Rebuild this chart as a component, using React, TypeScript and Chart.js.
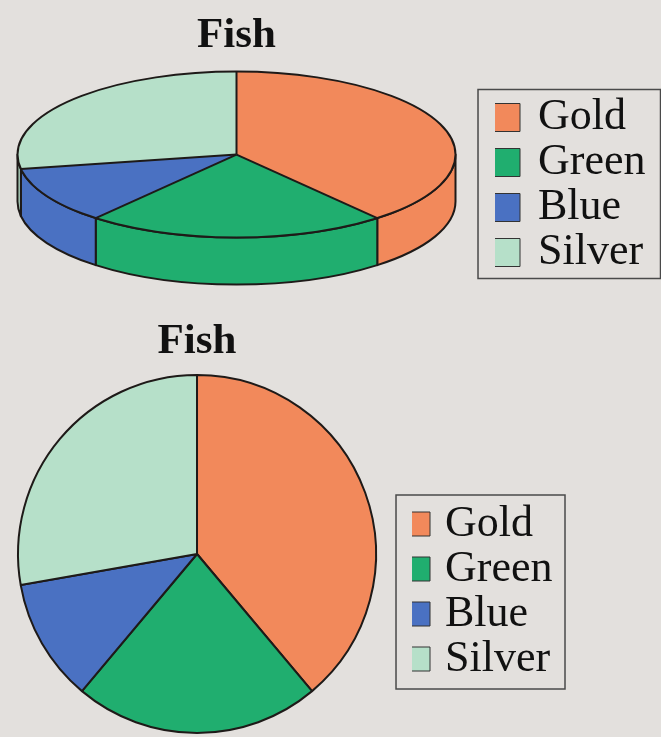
import { useEffect, useRef } from 'react';
import { Chart, registerables } from 'chart.js';

Chart.register(...registerables);

// ---- data ----
const categories = ['Gold', 'Green', 'Blue', 'Silver'];
const fishCounts = [7, 4, 2, 5];
const chartTitle = 'Fish';

// ---- styles ----
const sliceColors = ['#F2895B', '#20AE6F', '#4A71C2', '#B6E0C9'];
const SERIF = "'Liberation Serif', 'Times New Roman', serif";
const EDGE = '#1e1a18';
const PAGE_BG = '#E3E0DD';

const legendLabels = (chart: any) => {
  const base = (Chart as any).overrides.doughnut.plugins.legend.labels.generateLabels(chart);
  return base.map((it: any) => ({ ...it, lineWidth: 1, strokeStyle: '#333' }));
};

// Frame drawn around the legend items
const legendFrame = {
  id: 'legendFrame',
  afterDraw(chart: any, _args: any, opts: any) {
    const boxes = chart.legend && chart.legend.legendHitBoxes;
    if (!boxes || !boxes.length) return;
    const left = Math.min(...boxes.map((b: any) => b.left)) - opts.padLeft;
    const top = Math.min(...boxes.map((b: any) => b.top)) - opts.padTop;
    const right = Math.max(...boxes.map((b: any) => b.left + b.width)) + opts.padRight;
    const bottom = Math.max(...boxes.map((b: any) => b.top + b.height)) + opts.padBottom;
    const ctx = chart.ctx;
    ctx.save();
    ctx.strokeStyle = opts.color;
    ctx.lineWidth = opts.width;
    ctx.strokeRect(left, top, right - left, bottom - top);
    ctx.restore();
  },
};

// Tilted pie with a side wall
const pie3d = {
  id: 'pie3d',
  beforeDatasetsDraw(chart: any, _args: any, opts: any) {
    const arcs = chart.getDatasetMeta(0).data;
    chart.$pie3dActive = false;
    if (!arcs.length) return;
    const { x: cx, y: cy0, outerRadius: R } = arcs[0];
    const ry = R * opts.tilt;
    const d = opts.depth;
    const cy = cy0 - d / 2;
    const ctx = chart.ctx;
    const colors = chart.data.datasets[0].backgroundColor;
    ctx.save();
    ctx.lineWidth = opts.edgeWidth;
    ctx.strokeStyle = opts.edgeColor;
    ctx.lineJoin = 'round';
    arcs.forEach((arc: any, i: number) => {
      const s = Math.max(arc.startAngle, 0);
      const e = Math.min(arc.endAngle, Math.PI);
      if (e <= s) return;
      ctx.beginPath();
      ctx.ellipse(cx, cy, R, ry, 0, s, e);
      ctx.lineTo(cx + R * Math.cos(e), cy + ry * Math.sin(e) + d);
      ctx.ellipse(cx, cy + d, R, ry, 0, e, s, true);
      ctx.closePath();
      ctx.fillStyle = colors[i];
      ctx.fill();
      ctx.stroke();
    });
    ctx.restore();
    ctx.save();
    ctx.translate(cx, cy);
    ctx.scale(1, ry / R);
    ctx.translate(-cx, -cy0);
    chart.$pie3dActive = true;
  },
  afterDatasetsDraw(chart: any, _args: any, opts: any) {
    if (!chart.$pie3dActive) return;
    const ctx = chart.ctx;
    ctx.restore();
    const arcs = chart.getDatasetMeta(0).data;
    const { x: cx, y: cy0, outerRadius: R } = arcs[0];
    const ry = R * opts.tilt;
    const cy = cy0 - opts.depth / 2;
    ctx.save();
    ctx.lineWidth = opts.edgeWidth;
    ctx.strokeStyle = opts.edgeColor;
    ctx.lineJoin = 'round';
    ctx.beginPath();
    ctx.ellipse(cx, cy, R, ry, 0, 0, Math.PI * 2);
    ctx.stroke();
    arcs.forEach((arc: any) => {
      const a = arc.startAngle;
      ctx.beginPath();
      ctx.moveTo(cx, cy);
      ctx.lineTo(cx + R * Math.cos(a), cy + ry * Math.sin(a));
      ctx.stroke();
    });
    ctx.restore();
  },
};

const titleOpts = (padTop: number, padBottom: number) => ({
  display: true,
  text: chartTitle,
  color: '#111',
  fullSize: false,
  font: { family: SERIF, size: 43, weight: 'bold' },
  padding: { top: padTop, bottom: padBottom },
});

const legendOpts = (boxWidth: number, boxHeight: number) => ({
  display: true,
  position: 'right',
  fullSize: false,
  align: 'end',
  labels: {
    color: '#111',
    font: { family: SERIF, size: 44 },
    usePointStyle: true,
    pointStyle: 'rect',
    boxWidth,
    boxHeight,
    padding: 1,
    generateLabels: legendLabels,
  },
});

const topConfig = () => ({
  type: 'pie',
  data: {
    labels: categories,
    datasets: [
      {
        data: fishCounts,
        backgroundColor: sliceColors,
        borderWidth: 0,
        radius: 219,
        clip: false,
      },
    ],
  },
  options: {
    responsive: false,
    animation: false,
    events: [],
    layout: { padding: { left: 6, right: 5.5, top: 0, bottom: 24.5 } },
    plugins: {
      title: titleOpts(10, 19),
      legend: legendOpts(20, 28),
      tooltip: { enabled: false },
      legendFrame: { padLeft: 18, padTop: 6, padRight: 15, padBottom: 4, color: '#4a4a4a', width: 1.5 },
      pie3d: { tilt: 83 / 219, depth: 47, edgeColor: EDGE, edgeWidth: 2 },
    },
  },
  plugins: [pie3d, legendFrame],
});

const bottomConfig = () => ({
  type: 'pie',
  data: {
    labels: categories,
    datasets: [
      {
        data: fishCounts,
        backgroundColor: sliceColors,
        borderColor: EDGE,
        borderWidth: 2,
        radius: 179,
        clip: false,
      },
    ],
  },
  options: {
    responsive: false,
    animation: false,
    events: [],
    layout: { padding: { left: 0, right: 98.5, top: 0, bottom: 55 } },
    plugins: {
      title: titleOpts(16.2, 58.2),
      legend: legendOpts(10, 24),
      tooltip: { enabled: false },
      legendFrame: { padLeft: 17, padTop: 7, padRight: 12.5, padBottom: 8, color: '#4a4a4a', width: 1.5 },
    },
  },
  plugins: [legendFrame],
});

function PieCanvas({ config, left, top, width, height }: any) {
  const ref = useRef<HTMLCanvasElement>(null);
  useEffect(() => {
    const chart = new Chart(ref.current as HTMLCanvasElement, config() as any);
    return () => chart.destroy();
  }, []);
  return (
    <canvas
      ref={ref}
      width={width}
      height={height}
      style={{ position: 'absolute', left, top, width, height }}
    />
  );
}

export default function App() {
  return (
    <div
      style={{
        position: 'fixed',
        left: 0,
        top: 0,
        width: 661,
        height: 737,
        background: PAGE_BG,
        overflow: 'hidden',
      }}
    >
      <PieCanvas config={topConfig} left={-28} top={0} width={689} height={300} />
      <PieCanvas config={bottomConfig} left={-18} top={300} width={679} height={437} />
    </div>
  );
}
